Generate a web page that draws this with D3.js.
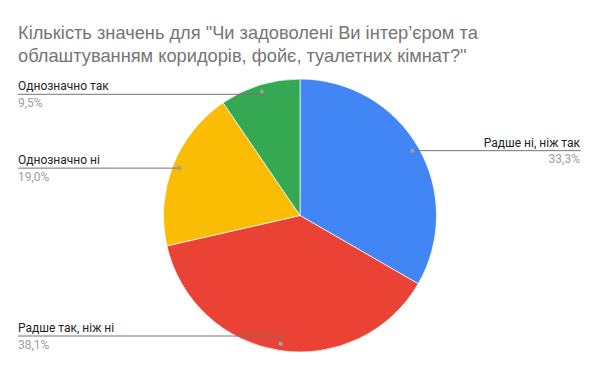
<!DOCTYPE html>
<html>
<head>
<meta charset="utf-8">
<script src="https://cdn.jsdelivr.net/npm/d3@7"></script>
<style>
  body { margin: 0; background: #fff; }
</style>
</head>
<body>
<div id="myPlot"></div>
<script>
// Set Dimensions
const width = 600;
const height = 371;

// Data
const categories = ["Радше ні, ніж так", "Радше так, ніж ні", "Однозначно ні", "Однозначно так"];
const counts = [7, 8, 4, 2];
const colors = ["#4285f4", "#ea4335", "#fbbc04", "#34a853"];
const titleLines = [
  "Кількість значень для \"Чи задоволені Ви інтер’єром та",
  "облаштуванням коридорів, фойє, туалетних кімнат?\""
];

const cx = 300, cy = 215.5, radius = 136.5;

const svg = d3.select("#myPlot")
  .append("svg")
  .attr("width", width)
  .attr("height", height);

// Title
svg.append("text")
  .attr("x", 18)
  .attr("y", 39)
  .style("font-family", "'Liberation Sans', Arial, sans-serif")
  .style("font-size", "18.25px")
  .style("fill", "#757575")
  .selectAll("tspan")
  .data(titleLines)
  .enter()
  .append("tspan")
  .attr("x", 18)
  .attr("dy", (d, i) => i === 0 ? 0 : 23)
  .text(d => d);

const total = d3.sum(counts);
const pie = d3.pie().sort(null).value(d => d)(counts);
const arc = d3.arc().innerRadius(0).outerRadius(radius);

const g = svg.append("g")
  .attr("transform", `translate(${cx},${cy})`);

g.selectAll(".slice")
  .data(pie)
  .enter()
  .append("path")
  .attr("class", "slice")
  .attr("d", arc)
  .style("fill", (d, i) => colors[i])
  .style("stroke", "#fff")
  .style("stroke-width", 0.7);

// Labels with leader lines
const dotArc = d3.arc().innerRadius(radius * 0.95).outerRadius(radius * 0.95);

pie.forEach((d, i) => {
  const c = dotArc.centroid(d);
  const px = cx + c[0], py = cy + c[1];
  const right = px > cx;
  const ly = Math.max(94.3, Math.min(336, py));
  const endX = right ? 581 : 18;
  const elbowX = right ? Math.min(px, 440) : Math.max(px, 160);

  svg.append("path")
    .attr("d", `M${endX},${ly} L${elbowX},${ly} L${px},${py}`)
    .style("fill", "none")
    .style("stroke", "#757575")
    .style("stroke-width", 1);

  svg.append("circle")
    .attr("cx", px)
    .attr("cy", py)
    .attr("r", 2.2)
    .style("fill", "#9e9e9e");

  svg.append("text")
    .attr("x", right ? 580 : 18)
    .attr("y", ly - 4)
    .style("text-anchor", right ? "end" : "start")
    .style("font-family", "Roboto, sans-serif")
    .style("font-size", "12px")
    .style("fill", "#222")
    .text(categories[i]);

  svg.append("text")
    .attr("x", right ? 580 : 18)
    .attr("y", ly + 12.5)
    .style("text-anchor", right ? "end" : "start")
    .style("font-family", "Roboto, sans-serif")
    .style("font-size", "12px")
    .style("fill", "#9e9e9e")
    .text(d3.format(".1f")(d.value / total * 100).replace(".", ",") + "%");
});
</script>
</body>
</html>
